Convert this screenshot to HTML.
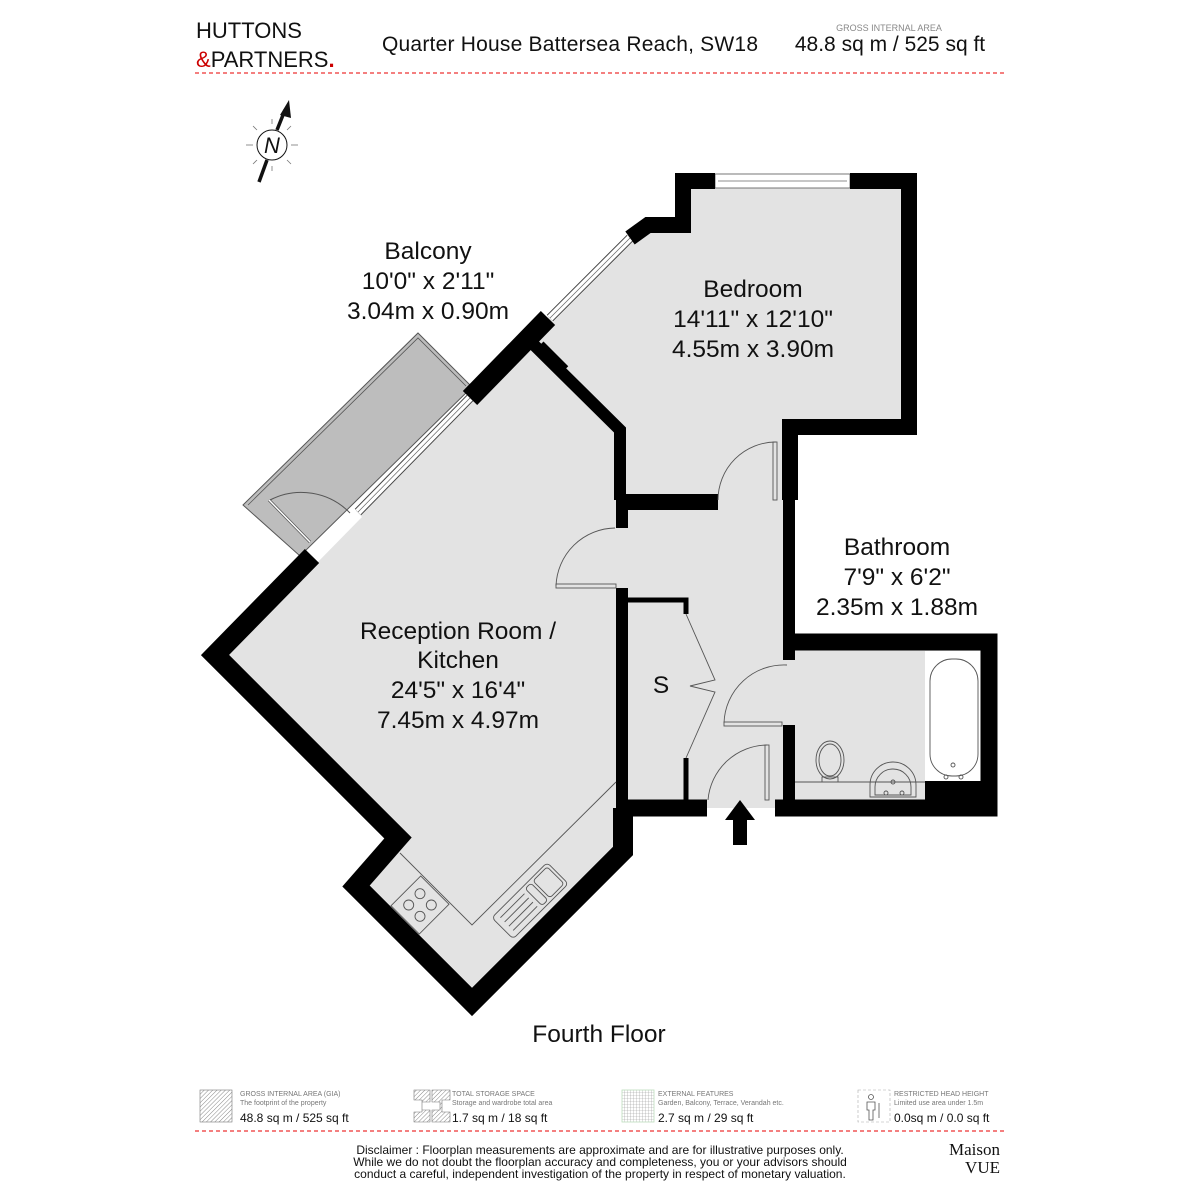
<!DOCTYPE html>
<html><head><meta charset="utf-8"><style>
body{margin:0;background:#fff;width:1200px;height:1200px;overflow:hidden;font-family:"Liberation Sans",sans-serif}
svg{position:absolute;left:0;top:0}
</style></head><body>
<svg width="1200" height="1200" viewBox="0 0 1200 1200" xmlns="http://www.w3.org/2000/svg" font-family="Liberation Sans, sans-serif">
<!-- header -->
<text x="196" y="38" font-size="22" fill="#111">HUTTONS</text>
<text x="196" y="67" font-size="22" fill="#111"><tspan fill="#c00">&amp;</tspan>PARTNERS<tspan fill="#c00" font-weight="bold">.</tspan></text>
<text x="382" y="51" font-size="21" fill="#111" textLength="376">Quarter House Battersea Reach, SW18</text>
<text x="889" y="31" font-size="9" fill="#888" text-anchor="middle">GROSS INTERNAL AREA</text>
<text x="890" y="51" font-size="21" fill="#111" text-anchor="middle">48.8 sq m / 525 sq ft</text>
<line x1="195" y1="73" x2="1005" y2="73" stroke="#e33" stroke-width="1.3" stroke-dasharray="4,3"/>
<!-- compass -->
<g stroke="#111" fill="none">
<circle cx="272" cy="145" r="15" stroke-width="1"/>
<line x1="259" y1="182" x2="267" y2="160" stroke-width="3.5"/>
<line x1="277" y1="130" x2="285" y2="110" stroke-width="3.5"/>
<g stroke="#777" stroke-width="0.8">
<line x1="246" y1="145" x2="253" y2="145"/><line x1="291" y1="145" x2="298" y2="145"/>
<line x1="272" y1="119" x2="272" y2="124"/><line x1="272" y1="166" x2="272" y2="171"/>
<line x1="253" y1="126" x2="257" y2="130"/><line x1="287" y1="160" x2="291" y2="164"/>
<line x1="253" y1="164" x2="257" y2="160"/><line x1="287" y1="130" x2="291" y2="126"/>
</g></g>
<polygon points="289,100 280,115 291,118" fill="#111"/>
<text x="272" y="153" font-size="22" font-style="italic" text-anchor="middle" fill="#111">N</text>

<!-- floor fills -->
<polygon points="305,562 215,655 398,838 356,886 472,1002 623,851 623,808 790,808 790,427 909,427 909,181 683,181 683,225 640,225 548,318 305,562" fill="#e3e3e3"/>
<rect x="790" y="642" width="200" height="166" fill="#e3e3e3"/>
<rect x="925" y="651" width="56" height="130" fill="#fff"/>
<rect x="925" y="781" width="56" height="20" fill="#000"/>
<!-- balcony -->
<polygon points="418,333 472,387 300,556 243,505" fill="#bdbdbd" stroke="#555" stroke-width="1"/>
<polyline points="248,505 418,338 466,386" fill="none" stroke="#555" stroke-width="0.8"/>
<polygon points="300,556 355,510 362,517 313,567" fill="#fff"/>
<!-- balcony door -->
<path d="M270,500 A68,68 0 0 1 350,513" fill="none" stroke="#555" stroke-width="1"/>
<line x1="269" y1="500" x2="310" y2="542" stroke="#555" stroke-width="3"/>
<line x1="269" y1="500" x2="310" y2="542" stroke="#fff" stroke-width="1.5"/>
<!-- sliding window reception -->
<line x1="470" y1="398" x2="358" y2="512" stroke="#444" stroke-width="9"/>
<line x1="470" y1="398" x2="358" y2="512" stroke="#fff" stroke-width="7"/>
<line x1="470" y1="398" x2="358" y2="512" stroke="#666" stroke-width="0.7"/>
<!-- bedroom diagonal window -->
<line x1="630" y1="238" x2="550" y2="318" stroke="#444" stroke-width="9"/>
<line x1="630" y1="238" x2="550" y2="318" stroke="#fff" stroke-width="7"/>
<line x1="630" y1="238" x2="550" y2="318" stroke="#666" stroke-width="0.7"/>
<!-- top window -->
<rect x="715" y="174" width="135" height="14" fill="#fff" stroke="#555" stroke-width="0.8"/>
<line x1="718" y1="181" x2="847" y2="181" stroke="#666" stroke-width="0.7"/>

<!-- walls -->
<g fill="none" stroke="#000" stroke-linejoin="miter">
<polyline points="312,556 215,655 398,838 356,886 472,1002 623,851 623,808" stroke-width="20"/>
<polyline points="470,398 548,318" stroke-width="20"/>
<polyline points="630,238 648,225 683,225 683,173" stroke-width="16"/>
<polyline points="683,181 715,181" stroke-width="16"/>
<polyline points="850,181 909,181 909,427 790,427 790,500" stroke-width="16"/>
<polyline points="789,498 789,660" stroke-width="12"/>
<polyline points="529,340 620,430 620,500" stroke-width="12"/>
<polyline points="622,500 622,528" stroke-width="12"/>
<polyline points="622,588 622,808" stroke-width="12"/>
<polyline points="616,502 718,502" stroke-width="16"/>
<polyline points="783,642 989,642 989,808 775,808" stroke-width="17"/>
<polyline points="616,808 707,808" stroke-width="17"/>
<polyline points="789,725 789,808" stroke-width="12"/>
<polyline points="628,600 686,600 686,614" stroke-width="5"/>
<polyline points="686,758 686,802" stroke-width="5"/>
</g>
<rect x="547" y="340" width="10" height="35" fill="#000" transform="rotate(-45 552 357)"/>
<!-- doors -->
<g fill="none" stroke="#555" stroke-width="0.9">
<path d="M718,500 A58,58 0 0 1 776,442"/>
<rect x="773" y="442" width="4" height="58"/>
<path d="M615,528 A60,60 0 0 0 556,586"/>
<rect x="556" y="584" width="60" height="4"/>
<path d="M787,665 A60,60 0 0 0 724,723"/>
<rect x="724" y="722" width="58" height="4"/>
<path d="M708,800 A60,60 0 0 1 767,745"/>
<rect x="765" y="745" width="4" height="55"/>
<polyline points="686,614 715,680 690,686 715,692 686,758"/>
<polyline points="400,853 472,925 616,782"/>
<g transform="rotate(-45 420 905)"><rect x="399" y="885" width="42" height="40"/>
<circle cx="412" cy="897" r="5"/><circle cx="428" cy="897" r="5"/><circle cx="412" cy="913" r="5"/><circle cx="428" cy="913" r="5"/></g>
<g transform="rotate(-45 528 900)"><rect x="490" y="887" width="78" height="30" rx="4"/>
<rect x="545" y="890" width="20" height="24" rx="3"/><rect x="534" y="890" width="8" height="24" rx="3"/>
<line x1="496" y1="893" x2="530" y2="893"/><line x1="496" y1="899" x2="530" y2="899"/><line x1="496" y1="905" x2="530" y2="905"/><line x1="496" y1="911" x2="530" y2="911"/></g>
<rect x="930" y="659" width="48" height="117" rx="22"/>
<circle cx="953" cy="765" r="2"/><circle cx="946" cy="777" r="2"/><circle cx="961" cy="777" r="2"/>
<ellipse cx="830" cy="760" rx="14" ry="19"/><ellipse cx="830" cy="760" rx="11" ry="16"/>
<rect x="822" y="777" width="16" height="5"/>
<line x1="795" y1="782" x2="925" y2="782"/>
<path d="M870,797 L870,785 A23,23 0 0 1 916,785 L916,797 Z"/>
<path d="M875,795 L875,787 A18,18 0 0 1 911,787 L911,795 Z"/>
<circle cx="893" cy="782" r="2"/><circle cx="886" cy="793" r="2"/><circle cx="902" cy="793" r="2"/>
</g>
<polygon points="740,800 755,820 747,820 747,845 733,845 733,820 725,820" fill="#000"/>

<!-- labels -->
<g font-size="24.5" fill="#111" text-anchor="middle">
<text x="428" y="259">Balcony</text><text x="428" y="289">10'0" x 2'11"</text><text x="428" y="319">3.04m x 0.90m</text>
<text x="753" y="297">Bedroom</text><text x="753" y="327">14'11" x 12'10"</text><text x="753" y="357">4.55m x 3.90m</text>
<text x="897" y="555">Bathroom</text><text x="897" y="585">7'9" x 6'2"</text><text x="897" y="615">2.35m x 1.88m</text>
<text x="458" y="639">Reception Room /</text><text x="458" y="668">Kitchen</text><text x="458" y="698">24'5" x 16'4"</text><text x="458" y="728">7.45m x 4.97m</text>
<text x="661" y="693">S</text>
<text x="599" y="1042">Fourth Floor</text>
</g>

<!-- legend -->
<defs>
<pattern id="hatch" width="3" height="3" patternUnits="userSpaceOnUse" patternTransform="rotate(45)"><line x1="0" y1="0" x2="0" y2="3" stroke="#888" stroke-width="1"/></pattern>
<pattern id="grid" width="3" height="3" patternUnits="userSpaceOnUse"><path d="M0,0H3M0,0V3" stroke="#999" stroke-width="0.6" fill="none"/></pattern>
</defs>
<rect x="200" y="1090" width="32" height="32" fill="url(#hatch)" stroke="#777" stroke-width="0.6"/>
<path d="M414,1090h16v12h-8v8h8v12h-16v-10h8v-12h-8z M432,1090h18v10h-8v12h8v10h-18v-12h8v-8h-8z" fill="url(#hatch)" stroke="#777" stroke-width="0.6"/>
<rect x="622" y="1090" width="32" height="32" fill="url(#grid)" stroke="#bdb" stroke-width="0.8"/>
<rect x="858" y="1090" width="32" height="32" fill="none" stroke="#aaa" stroke-width="0.6" stroke-dasharray="3,2"/>
<circle cx="871" cy="1097" r="2.5" fill="none" stroke="#555" stroke-width="0.8"/>
<path d="M867,1102h8v8h-2v10h-4v-10h-2z" fill="none" stroke="#555" stroke-width="0.8"/>
<line x1="879" y1="1103" x2="879" y2="1118" stroke="#555" stroke-width="0.8"/>
<g font-size="7" fill="#777">
<text x="240" y="1096">GROSS INTERNAL AREA (GIA)</text><text x="240" y="1105">The footprint of the property</text>
<text x="452" y="1096">TOTAL STORAGE SPACE</text><text x="452" y="1105">Storage and wardrobe total area</text>
<text x="658" y="1096">EXTERNAL FEATURES</text><text x="658" y="1105">Garden, Balcony, Terrace, Verandah etc.</text>
<text x="894" y="1096">RESTRICTED HEAD HEIGHT</text><text x="894" y="1105">Limited use area under 1.5m</text>
</g>
<g font-size="12" fill="#111">
<text x="240" y="1122">48.8 sq m / 525 sq ft</text>
<text x="452" y="1122">1.7 sq m / 18 sq ft</text>
<text x="658" y="1122">2.7 sq m / 29 sq ft</text>
<text x="894" y="1122">0.0sq m / 0.0 sq ft</text>
</g>
<line x1="195" y1="1131" x2="1005" y2="1131" stroke="#e33" stroke-width="1.3" stroke-dasharray="4,3"/>
<g font-size="12" fill="#111" text-anchor="middle">
<text x="600" y="1154">Disclaimer : Floorplan measurements are approximate and are for illustrative purposes only.</text>
<text x="600" y="1166">While we do not doubt the floorplan accuracy and completeness, you or your advisors should</text>
<text x="600" y="1178">conduct a careful, independent investigation of the property in respect of monetary valuation.</text>
</g>
<text x="1000" y="1155" font-family="Liberation Serif, serif" font-size="17" text-anchor="end" fill="#111">Maison</text>
<text x="1000" y="1173" font-family="Liberation Serif, serif" font-size="17" text-anchor="end" fill="#111">VUE</text>
</svg>
</body></html>
